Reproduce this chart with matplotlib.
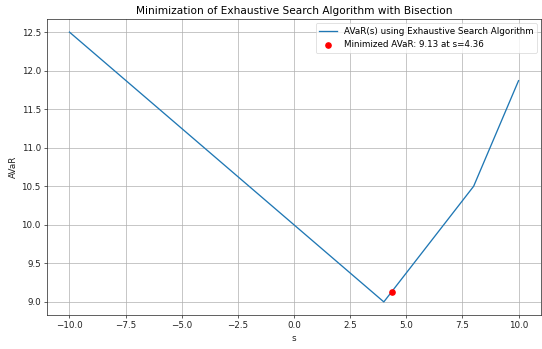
import matplotlib
matplotlib.use("Agg")
import matplotlib.pyplot as plt

s_values = [-10.0, 4.0, 8.0, 10.0]
avar_values = [12.5, 9.0, 10.5, 11.87]
min_s = 4.36
min_avar = 9.13

k = 0.63  # scale of the original rendering

fig = plt.figure(figsize=(5.42, 3.49), dpi=100)
ax = fig.add_axes([47/542, 1 - 315/349, (541-47)/542, (315-19)/349])
ax.plot(s_values, avar_values, color="#1f77b4", linewidth=1.5*k,
        label="AVaR(s) using Exhaustive Search Algorithm")
ax.scatter([min_s], [min_avar], color="red", s=36*k*k, zorder=3,
           label=f"Minimized AVaR: {min_avar:.2f} at s={min_s:.2f}")
ax.set_xlim(-11.0, 11.0)
ax.set_ylim(8.83, 12.67)
ax.set_xticks([-10.0, -7.5, -5.0, -2.5, 0.0, 2.5, 5.0, 7.5, 10.0])
ax.set_yticks([9.0, 9.5, 10.0, 10.5, 11.0, 11.5, 12.0, 12.5])
ax.tick_params(labelsize=10*k, length=3.5*k, width=0.8*k, pad=3.5*k, colors="#222222")
for sp in ax.spines.values():
    sp.set_linewidth(0.8*k)
    sp.set_color("#222222")
ax.grid(True, color="#b0b0b0", linewidth=0.8*k)
ax.set_xlabel("s", fontsize=10*k, color="#222222", labelpad=4*k)
ax.set_ylabel("AVaR", fontsize=10*k, color="#222222", labelpad=4*k)
ax.set_title("Minimization of Exhaustive Search Algorithm with Bisection",
             fontsize=12*k, pad=6*k)
leg = ax.legend(loc="upper right", fontsize=10*k, borderaxespad=0.5, handlelength=2.0)
leg.get_frame().set_linewidth(0.8*k)
fig.savefig("out.png", dpi=100)
